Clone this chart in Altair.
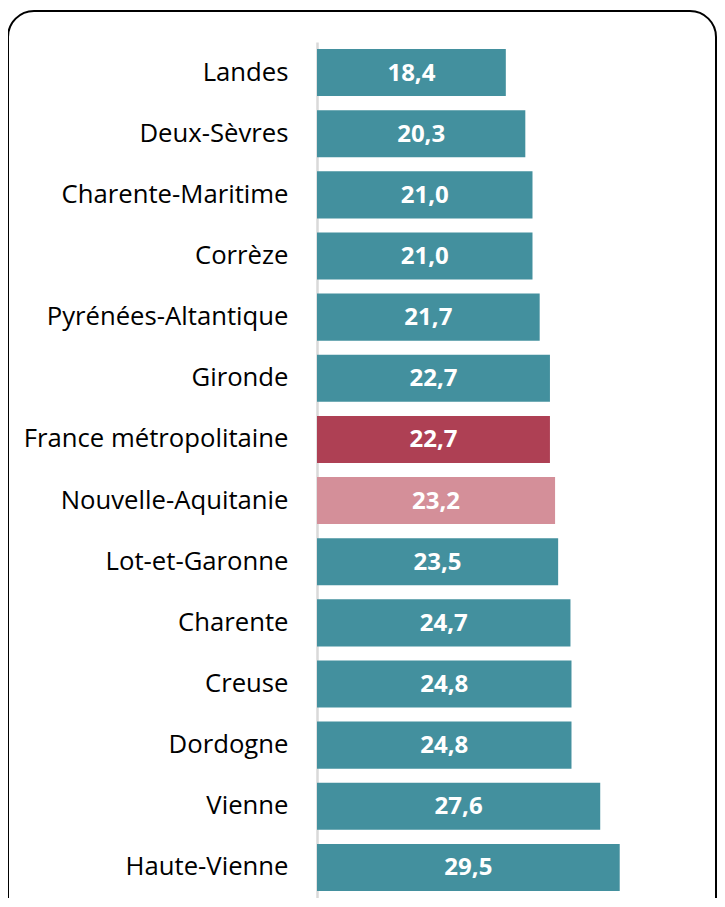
import altair as alt
import pandas as pd

regions = ["Landes", "Deux-Sèvres", "Charente-Maritime", "Corrèze",
           "Pyrénées-Altantique", "Gironde", "France métropolitaine",
           "Nouvelle-Aquitanie", "Lot-et-Garonne", "Charente", "Creuse",
           "Dordogne", "Vienne", "Haute-Vienne"]
values = [18.4, 20.3, 21.0, 21.0, 21.7, 22.7, 22.7, 23.2, 23.5, 24.7, 24.8,
          24.8, 27.6, 29.5]
groups = ["dep"] * 6 + ["france", "region"] + ["dep"] * 6

df = pd.DataFrame({"region": regions, "value": values, "group": groups})
df["label"] = df["value"].map(lambda v: f"{v:.1f}".replace(".", ","))
df["half"] = df["value"] / 2

W, H = 392, 856

y = alt.Y("region:N", sort=regions, title=None,
          scale=alt.Scale(paddingInner=0.23, paddingOuter=0.115),
          axis=alt.Axis(ticks=False, labelPadding=29, labelFontSize=25.7,
                        labelFont="Open Sans", labelColor="#000000",
                        domainColor="#D9D9D9", domainWidth=2.5,
                        labelLimit=400, labelBaseline="middle"))

xscale = alt.Scale(domain=[0, 38.2], nice=False)

border = alt.Chart(pd.DataFrame({"a": [0]})).mark_rect(
    fill=None, stroke="#000000", strokeWidth=2, cornerRadius=26, clip=False
).encode(x=alt.value(-309), x2=alt.value(W + 7),
         y=alt.value(-31), y2=alt.value(H + 40))

bars = alt.Chart(df).mark_bar().encode(
    x=alt.X("value:Q", scale=xscale, axis=None),
    y=y,
    color=alt.Color("group:N", legend=None,
                    scale=alt.Scale(domain=["dep", "france", "region"],
                                    range=["#43909E", "#AE4054", "#D48F99"])),
)

text = alt.Chart(df).mark_text(
    color="white", fontWeight="bold", fontSize=24, font="Open Sans",
    baseline="middle", dy=1
).encode(
    x=alt.X("half:Q", scale=xscale, axis=None),
    y=alt.Y("region:N", sort=regions),
    text="label:N",
)

chart = alt.layer(bars, text, border).properties(
    width=W, height=H,
    autosize=alt.AutoSizeParams(type="none"),
    padding={"left": 309, "top": 34, "right": 8, "bottom": 0},
).configure_view(stroke=None)

chart.save("out.html", embed_options={"renderer": "svg", "actions": False})
